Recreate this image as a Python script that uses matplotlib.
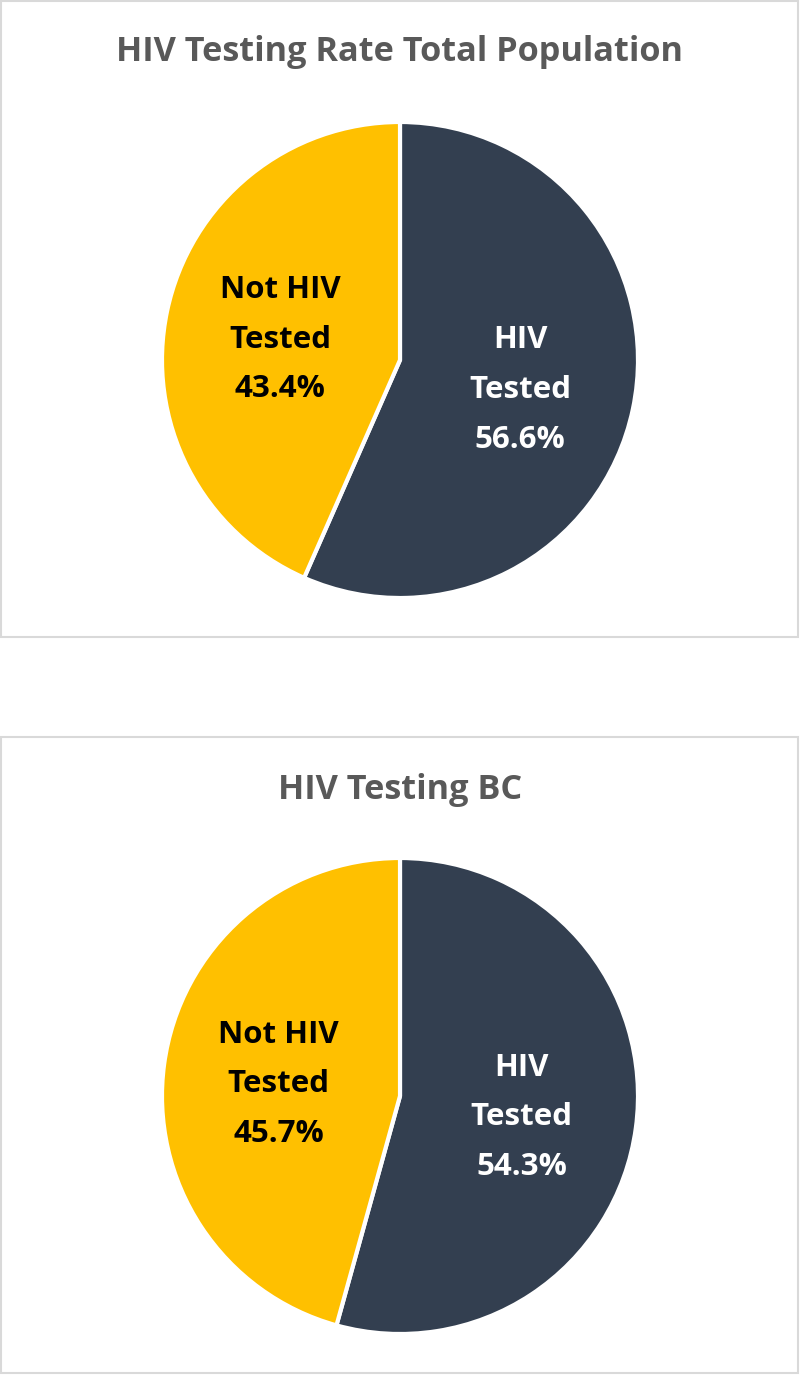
import matplotlib.pyplot as plt
from matplotlib.patches import Rectangle

# chart data
titles = ["HIV Testing Rate Total Population", "HIV Testing BC"]
categories = ["HIV\nTested", "Not HIV\nTested"]
top_values = [56.6, 43.4]
bottom_values = [54.3, 45.7]
colors = ["#333F50", "#FFC000"]
text_colors = ["white", "black"]

plt.rcParams['font.family'] = ['Open Sans', 'DejaVu Sans']

W, H = 800, 1377
fig = plt.figure(figsize=(W / 100, H / 100), dpi=100)

# panel frames (pixels: x0, y0 top, x1, y1 bottom)
panels = [(1, 1, 798, 637), (1, 737, 798, 1373)]
centers = [(400, 360), (400, 1096)]
title_y = [52, 790]
radius = 238

for i, values in enumerate([top_values, bottom_values]):
    x0, y0, x1, y1 = panels[i]
    fig.add_artist(Rectangle((x0 / W, 1 - y1 / H), (x1 - x0) / W, (y1 - y0) / H,
                             transform=fig.transFigure, fill=False,
                             edgecolor="#D9D9D9", linewidth=1.5))
    fig.text(0.5, 1 - title_y[i] / H, titles[i], ha="center", va="center",
             fontsize=24.7, fontweight="bold", color="#595959")

    cx, cy = centers[i]
    ax = fig.add_axes([(cx - radius) / W, 1 - (cy + radius) / H, 2 * radius / W, 2 * radius / H])
    labels = [f"{c}\n{v}%" for c, v in zip(categories, values)]
    wedges, texts = ax.pie(values, colors=colors, startangle=90, counterclock=False,
                           labels=labels, labeldistance=0.515,
                           wedgeprops=dict(edgecolor="white", linewidth=3),
                           textprops=dict(fontsize=22.5, fontweight="bold", ha="center",
                                          va="center", linespacing=1.85))
    for t, c in zip(texts, text_colors):
        t.set_color(c)
        t.set_horizontalalignment("center")
        tx, ty = t.get_position()
        t.set_position((tx, ty - 0.02))
    for w in wedges:
        w.set_clip_on(False)
    ax.set_xlim(-1, 1)
    ax.set_ylim(-1, 1)
    ax.set_aspect("equal")
    ax.axis("off")

fig.savefig("out.png", dpi=100)
